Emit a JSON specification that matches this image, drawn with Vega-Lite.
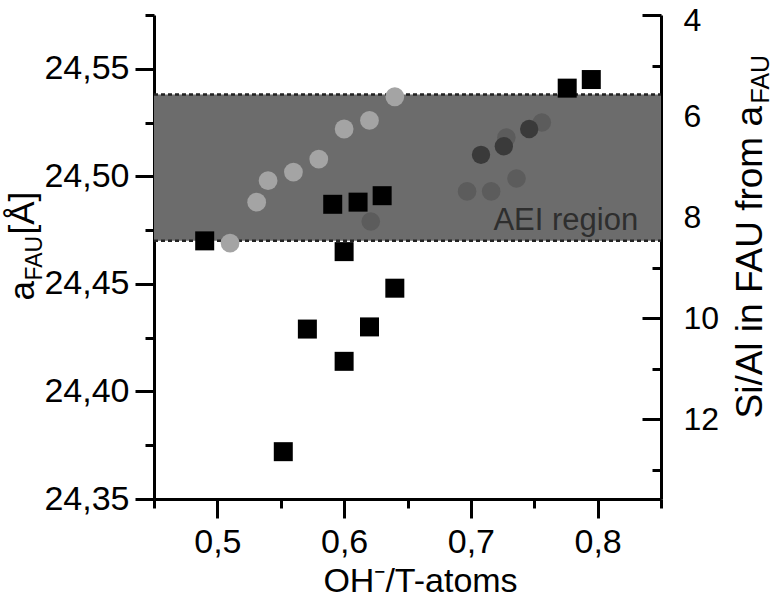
{
  "$schema": "https://vega.github.io/schema/vega-lite/v6.json",
  "autosize": "none",
  "width": 507,
  "height": 484,
  "padding": {"left": 154, "top": 15, "right": 113, "bottom": 113},
  "background": "white",
  "config": {
    "view": {"stroke": null},
    "axis": {
      "grid": false, "domainColor": "#000", "domainWidth": 3, "tickColor": "#000", "tickWidth": 3,
      "labelFont": "Liberation Sans", "labelFontSize": 34, "labelColor": "#000",
      "titleFont": "Liberation Sans", "titleColor": "#000", "titleFontWeight": "normal",
      "labelOverlap": false, "labelBound": false, "labelFlush": false, "zindex": 1
    }
  },
  "datasets": {
    "pts": [
      {"oh": 0.490, "a": 24.470, "series": "square"},
      {"oh": 0.552, "a": 24.372, "series": "square"},
      {"oh": 0.571, "a": 24.429, "series": "square"},
      {"oh": 0.591, "a": 24.487, "series": "square"},
      {"oh": 0.600, "a": 24.465, "series": "square"},
      {"oh": 0.600, "a": 24.414, "series": "square"},
      {"oh": 0.611, "a": 24.488, "series": "square"},
      {"oh": 0.620, "a": 24.430, "series": "square"},
      {"oh": 0.630, "a": 24.491, "series": "square"},
      {"oh": 0.640, "a": 24.448, "series": "square"},
      {"oh": 0.776, "a": 24.541, "series": "square"},
      {"oh": 0.795, "a": 24.545, "series": "square"},
      {"oh": 0.510, "a": 24.469, "series": "light"},
      {"oh": 0.531, "a": 24.488, "series": "light"},
      {"oh": 0.540, "a": 24.498, "series": "light"},
      {"oh": 0.560, "a": 24.502, "series": "light"},
      {"oh": 0.580, "a": 24.508, "series": "light"},
      {"oh": 0.600, "a": 24.522, "series": "light"},
      {"oh": 0.620, "a": 24.526, "series": "light"},
      {"oh": 0.640, "a": 24.537, "series": "light"},
      {"oh": 0.621, "a": 24.479, "series": "medium"},
      {"oh": 0.697, "a": 24.493, "series": "medium"},
      {"oh": 0.716, "a": 24.493, "series": "medium"},
      {"oh": 0.736, "a": 24.499, "series": "medium"},
      {"oh": 0.728, "a": 24.518, "series": "medium"},
      {"oh": 0.756, "a": 24.525, "series": "medium"},
      {"oh": 0.708, "a": 24.510, "series": "dark"},
      {"oh": 0.726, "a": 24.514, "series": "dark"},
      {"oh": 0.746, "a": 24.522, "series": "dark"}
    ],
    "region": [{"x1": 0.45, "x2": 0.85, "lo": 24.47, "hi": 24.538}],
    "edges": [{"x1": 0.45, "x2": 0.85, "y": 24.47}, {"x1": 0.45, "x2": 0.85, "y": 24.538}],
    "note": [{"x": 0.832, "y": 24.4751, "label": "AEI region"}],
    "sial": [{"s": 4}, {"s": 13.584}]
  },
  "resolve": {"scale": {"y": "independent"}, "axis": {"y": "independent"}},
  "layer": [
    {
      "data": {"name": "region"},
      "mark": {"type": "rect", "color": "#6c6c6c"},
      "encoding": {
        "x": {"field": "x1", "type": "quantitative", "scale": {"domain": [0.45, 0.85], "nice": false, "zero": false},
          "axis": {
            "values": [0.45, 0.5, 0.55, 0.6, 0.65, 0.7, 0.75, 0.8, 0.85],
            "tickSize": {"condition": {"test": "abs(datum.value*10 - round(datum.value*10)) > 0.01", "value": 9}, "value": 19},
            "labelExpr": "abs(datum.value*10 - round(datum.value*10)) > 0.01 ? '' : replace(format(datum.value, '.1f'), '.', ',')",
            "labelPadding": 7,
            "title": "OH⁻/T-atoms", "titleFontSize": 34, "titleX": 266, "titlePadding": 5
          }},
        "x2": {"field": "x2"},
        "y": {"field": "lo", "type": "quantitative", "scale": {"domain": [24.35, 24.575], "nice": false, "zero": false}, "axis": null},
        "y2": {"field": "hi"}
      }
    },
    {
      "data": {"name": "edges"},
      "mark": {"type": "rule", "color": "#222", "strokeWidth": 2.5, "strokeDash": [4, 3]},
      "encoding": {
        "x": {"field": "x1", "type": "quantitative"},
        "x2": {"field": "x2"},
        "y": {"field": "y", "type": "quantitative", "scale": {"domain": [24.35, 24.575], "nice": false, "zero": false}, "axis": null}
      }
    },
    {
      "data": {"name": "pts"},
      "mark": {"type": "point", "filled": true, "opacity": 1, "strokeWidth": 0},
      "encoding": {
        "x": {"field": "oh", "type": "quantitative"},
        "y": {"field": "a", "type": "quantitative", "scale": {"domain": [24.35, 24.575], "nice": false, "zero": false},
          "axis": {
            "orient": "left",
            "values": [24.35, 24.375, 24.4, 24.425, 24.45, 24.475, 24.5, 24.525, 24.55, 24.575],
            "tickSize": {"condition": {"test": "abs(datum.value*20 - round(datum.value*20)) > 0.01", "value": 9}, "value": 19},
            "labelExpr": "abs(datum.value*20 - round(datum.value*20)) > 0.01 ? '' : replace(format(datum.value, '.2f'), '.', ',')",
            "labelPadding": 6,
            "title": "a", "titleFontSize": 35, "titleAngle": 270, "titleAlign": "left", "titleBaseline": "alphabetic",
            "titleX": -121, "titleY": 285}},
        "shape": {"field": "series", "type": "nominal", "scale": {"domain": ["square", "light", "medium", "dark"], "range": ["square", "circle", "circle", "circle"]}, "legend": null},
        "color": {"field": "series", "type": "nominal", "scale": {"domain": ["square", "light", "medium", "dark"], "range": ["#000000", "#a4a4a4", "#5c5c5c", "#3a3a3a"]}, "legend": null},
        "size": {"field": "series", "type": "nominal", "scale": {"domain": ["square", "light", "medium", "dark"], "range": [361, 336, 336, 336]}, "legend": null}
      }
    },
    {
      "data": {"name": "note"},
      "mark": {"type": "text", "align": "right", "baseline": "alphabetic", "font": "Liberation Sans", "fontSize": 31, "color": "#2e2e2e"},
      "encoding": {
        "x": {"field": "x", "type": "quantitative"},
        "y": {"field": "y", "type": "quantitative", "scale": {"domain": [24.35, 24.575], "nice": false, "zero": false}, "axis": null},
        "text": {"field": "label"}
      }
    },
    {
      "data": {"name": "note"},
      "mark": {"type": "point", "opacity": 0},
      "encoding": {
        "y": {"field": "y", "type": "quantitative", "scale": {"domain": [24.35, 24.575], "nice": false, "zero": false},
          "axis": {"orient": "left", "domain": false, "ticks": false, "labels": false,
            "title": "FAU", "titleFontSize": 23, "titleAngle": 270, "titleAlign": "left", "titleBaseline": "alphabetic",
            "titleX": -113, "titleY": 265}}
      }
    },
    {
      "data": {"name": "note"},
      "mark": {"type": "point", "opacity": 0},
      "encoding": {
        "y": {"field": "y", "type": "quantitative", "scale": {"domain": [24.35, 24.575], "nice": false, "zero": false},
          "axis": {"orient": "left", "domain": false, "ticks": false, "labels": false,
            "title": "[Å]", "titleFontSize": 35, "titleAngle": 270, "titleAlign": "left", "titleBaseline": "alphabetic",
            "titleX": -121, "titleY": 219}}
      }
    },
    {
      "data": {"name": "sial"},
      "mark": {"type": "point", "opacity": 0},
      "encoding": {
        "y": {"field": "s", "type": "quantitative", "scale": {"domain": [4, 13.584], "nice": false, "zero": false, "reverse": true},
          "axis": {"orient": "right",
            "values": [4, 5, 6, 7, 8, 9, 10, 11, 12, 13],
            "tickSize": {"condition": {"test": "datum.value % 2 == 1", "value": -9}, "value": -19},
            "labelExpr": "datum.value % 2 == 1 ? '' : format(datum.value, 'd')",
            "labelFontSize": 32,
            "labelOffset": {"condition": {"test": "datum.value == 4", "value": 5}, "value": 0},
            "labelPadding": 41,
            "title": "Si/Al in FAU from a", "titleFontSize": 37, "titleAngle": 270, "titleAlign": "left", "titleBaseline": "alphabetic",
            "titleX": 100, "titleY": 403}}
      }
    },
    {
      "data": {"name": "sial"},
      "mark": {"type": "point", "opacity": 0},
      "encoding": {
        "y": {"field": "s", "type": "quantitative", "scale": {"domain": [4, 13.584], "nice": false, "zero": false, "reverse": true},
          "axis": {"orient": "right", "domain": false, "ticks": false, "labels": false,
            "title": "FAU", "titleFontSize": 25, "titleAngle": 270, "titleAlign": "left", "titleBaseline": "alphabetic",
            "titleX": 107, "titleY": 88}}
      }
    }
  ]
}
